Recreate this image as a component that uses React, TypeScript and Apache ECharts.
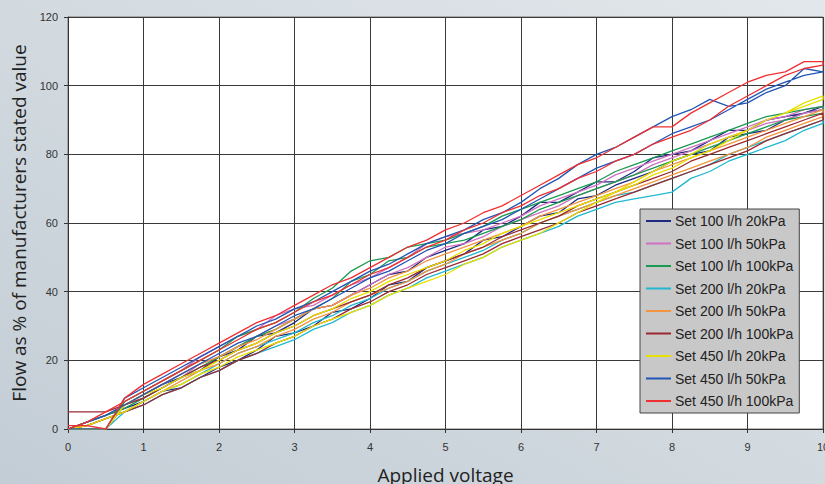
import React, { useEffect, useRef } from "react";
import * as echarts from "echarts";

const VOLTS = [
  0, 0.25, 0.5, 0.75, 1, 1.25, 1.5, 1.75, 2, 2.25, 2.5, 2.75, 3, 3.25, 3.5, 3.75, 4, 4.25, 4.5, 4.75, 5,
  5.25, 5.5, 5.75, 6, 6.25, 6.5, 6.75, 7, 7.25, 7.5, 7.75, 8, 8.25, 8.5, 8.75, 9, 9.25, 9.5, 9.75, 10,
];

const X_TICKS = [0, 1, 2, 3, 4, 5, 6, 7, 8, 9, 10];
const Y_TICKS = [0, 20, 40, 60, 80, 100, 120];

const SERIES_NAMES = [
  "Set 100 l/h 20kPa",
  "Set 100 l/h 50kPa",
  "Set 100 l/h 100kPa",
  "Set 200 l/h 20kPa",
  "Set 200 l/h 50kPa",
  "Set 200 l/h 100kPa",
  "Set 450 l/h 20kPa",
  "Set 450 l/h 50kPa",
  "Set 450 l/h 100kPa",
];

const SERIES_COLORS = [
  "#1c2a80",
  "#d070c0",
  "#189a50",
  "#20b8d0",
  "#f2953e",
  "#9a2a32",
  "#e8e000",
  "#2255b5",
  "#f03030",
];

// rising sweep (voltage increasing) and falling sweep (voltage decreasing), values at VOLTS
const S100_20_UP = [0, 2, 4, 6, 8, 11, 12, 15, 18, 20, 23, 27, 28, 30, 34, 35, 38, 42, 43, 47, 49, 51, 55, 56, 59, 62, 63, 67, 68, 71, 73, 75, 78, 80, 81, 85, 86, 87, 90, 92, 93];
const S100_20_DOWN = [0, 0, 0, 7, 10, 13, 15, 17, 21, 23, 27, 28, 31, 35, 36, 39, 42, 45, 46, 50, 52, 54, 58, 59, 62, 66, 66, 69, 72, 72, 75, 79, 80, 81, 84, 87, 87, 90, 91, 92, 94];
const S100_50_UP = [0, 2, 4, 7, 9, 12, 15, 19, 21, 24, 27, 30, 32, 35, 36, 39, 42, 45, 47, 50, 53, 54, 56, 59, 61, 63, 65, 68, 70, 72, 74, 77, 79, 81, 83, 85, 87, 89, 90, 92, 93];
const S100_50_DOWN = [0, 0, 0, 8, 11, 14, 17, 21, 24, 27, 29, 33, 35, 36, 39, 42, 44, 47, 50, 54, 56, 57, 58, 60, 62, 65, 67, 69, 71, 74, 76, 78, 80, 82, 84, 86, 88, 90, 91, 93, 94];
const S100_100_UP = [0, 2, 4, 6, 9, 12, 15, 18, 21, 24, 27, 29, 32, 35, 38, 43, 45, 49, 50, 53, 54, 55, 57, 59, 61, 64, 66, 68, 70, 72, 74, 76, 78, 80, 82, 84, 86, 88, 90, 91, 92];
const S100_100_DOWN = [0, 0, 0, 8, 11, 14, 17, 20, 23, 27, 29, 31, 34, 38, 41, 46, 49, 50, 53, 54, 55, 57, 59, 62, 64, 66, 68, 70, 72, 75, 77, 79, 81, 83, 85, 87, 89, 91, 92, 93, 94];
const S200_20_UP = [0, 1, 3, 5, 7, 10, 12, 15, 17, 20, 22, 24, 26, 29, 31, 34, 36, 39, 41, 44, 46, 48, 50, 53, 55, 57, 59, 62, 64, 66, 67, 68, 69, 73, 75, 78, 80, 82, 84, 87, 89];
const S200_20_DOWN = [0, 0, 0, 5, 8, 11, 13, 16, 19, 22, 24, 26, 28, 31, 33, 36, 38, 41, 43, 46, 48, 50, 52, 55, 57, 60, 62, 64, 66, 68, 69, 71, 73, 75, 77, 80, 82, 84, 86, 88, 90];
const S200_50_UP = [0, 1, 3, 5, 8, 11, 14, 17, 19, 22, 24, 27, 29, 32, 34, 37, 39, 41, 43, 46, 48, 51, 53, 55, 57, 60, 62, 64, 66, 68, 70, 72, 74, 76, 78, 80, 82, 85, 87, 89, 91];
const S200_50_DOWN = [0, 0, 0, 7, 10, 13, 16, 19, 21, 24, 26, 29, 32, 35, 36, 39, 41, 44, 46, 49, 51, 53, 55, 57, 59, 62, 64, 66, 68, 70, 72, 75, 77, 79, 81, 83, 85, 87, 89, 91, 93];
const S200_100_UP = [0, 1, 3, 5, 7, 10, 12, 15, 17, 20, 22, 25, 27, 30, 32, 35, 37, 40, 42, 45, 47, 49, 51, 54, 56, 58, 60, 63, 65, 67, 69, 71, 73, 75, 77, 79, 81, 84, 86, 88, 90];
const S200_100_DOWN = [5, 5, 5, 7, 9, 12, 15, 18, 20, 23, 25, 28, 30, 33, 35, 37, 39, 42, 44, 47, 49, 51, 53, 56, 58, 60, 62, 65, 67, 69, 71, 73, 75, 78, 80, 82, 84, 86, 88, 90, 92];
const S450_20_UP = [0, 1, 3, 5, 8, 11, 13, 16, 18, 21, 23, 25, 27, 30, 32, 34, 36, 39, 41, 43, 45, 48, 50, 53, 55, 57, 60, 63, 66, 69, 72, 75, 78, 80, 83, 85, 87, 90, 92, 94, 96];
const S450_20_DOWN = [0, 0, 0, 7, 10, 12, 15, 17, 20, 23, 25, 28, 30, 33, 35, 38, 40, 43, 45, 47, 49, 52, 54, 57, 59, 61, 63, 65, 67, 69, 71, 74, 76, 79, 81, 84, 87, 90, 92, 95, 97];
const S450_50_UP = [0, 2, 4, 7, 10, 13, 16, 19, 22, 25, 27, 30, 33, 35, 38, 41, 44, 46, 49, 52, 54, 57, 59, 61, 64, 67, 70, 73, 76, 78, 80, 83, 86, 88, 90, 93, 96, 99, 101, 103, 104];
const S450_50_DOWN = [0, 0, 0, 9, 12, 15, 18, 21, 24, 27, 30, 32, 35, 37, 40, 43, 46, 48, 51, 54, 56, 58, 61, 63, 66, 70, 73, 77, 80, 82, 85, 88, 91, 93, 96, 94, 95, 98, 100, 105, 104];
const S450_100_UP = [0, 2, 5, 8, 11, 14, 17, 20, 23, 26, 29, 31, 34, 37, 39, 42, 45, 47, 50, 53, 55, 58, 60, 63, 65, 68, 70, 73, 75, 78, 80, 83, 85, 87, 90, 94, 97, 100, 103, 105, 106];
const S450_100_DOWN = [1, 1, 0, 9, 13, 16, 19, 22, 25, 28, 31, 33, 36, 39, 42, 44, 47, 50, 53, 55, 58, 60, 63, 65, 68, 71, 74, 77, 79, 82, 85, 88, 88, 92, 95, 98, 101, 103, 104, 107, 107];

const SWEEPS = [
  [S100_20_UP, S100_20_DOWN],
  [S100_50_UP, S100_50_DOWN],
  [S100_100_UP, S100_100_DOWN],
  [S200_20_UP, S200_20_DOWN],
  [S200_50_UP, S200_50_DOWN],
  [S200_100_UP, S200_100_DOWN],
  [S450_20_UP, S450_20_DOWN],
  [S450_50_UP, S450_50_DOWN],
  [S450_100_UP, S450_100_DOWN],
];

function buildData(up: number[], down: number[]) {
  const pts: number[][] = [];
  for (let i = 0; i < VOLTS.length; i++) pts.push([VOLTS[i], up[i]]);
  for (let i = VOLTS.length - 1; i >= 0; i--) pts.push([VOLTS[i], down[i]]);
  return pts;
}

export default function App() {
  const ref = useRef<HTMLDivElement>(null);
  useEffect(() => {
    if (!ref.current) return;
    const chart = echarts.init(ref.current, null, { renderer: "svg" });
    const axisFont = { color: "#333", fontSize: 11, fontFamily: "Liberation Sans" };
    const titleFont = { fontFamily: "Open Sans", fontSize: 19, color: "#222" };
    const option = {
      animation: false,
      backgroundColor: {
        type: "linear",
        x: 0,
        y: 1,
        x2: 1,
        y2: 0,
        colorStops: [
          { offset: 0, color: "#c3cdd5" },
          { offset: 1, color: "#e2e7eb" },
        ],
      },
      grid: {
        left: 68,
        right: 2,
        top: 17,
        bottom: 55,
        show: true,
        outerBoundsMode: "none",
        containLabel: false,
        backgroundColor: "#ffffff",
        borderColor: "#777",
        borderWidth: 1,
      },
      xAxis: {
        type: "value",
        min: X_TICKS[0],
        max: X_TICKS[X_TICKS.length - 1],
        interval: 1,
        name: "Applied voltage",
        nameLocation: "middle",
        nameGap: 36,
        nameTextStyle: titleFont,
        axisLine: { show: true, lineStyle: { color: "#333", width: 1 } },
        axisTick: { show: true, length: 4, lineStyle: { color: "#333" } },
        axisLabel: { ...axisFont, margin: 12 },
        splitLine: { show: true, lineStyle: { color: "#3a3a3a", width: 1 } },
      },
      yAxis: {
        type: "value",
        min: Y_TICKS[0],
        max: Y_TICKS[Y_TICKS.length - 1],
        interval: 20,
        name: "Flow as % of manufacturers stated value",
        nameLocation: "middle",
        nameGap: 40,
        nameTextStyle: titleFont,
        axisLine: { show: true, lineStyle: { color: "#333", width: 1 } },
        axisTick: { show: true, length: 4, lineStyle: { color: "#333" } },
        axisLabel: { ...axisFont, margin: 10 },
        splitLine: { show: true, lineStyle: { color: "#3a3a3a", width: 1 } },
      },
      legend: {
        orient: "vertical",
        left: 640,
        top: 209,
        padding: [5, 6, 5, 5],
        itemWidth: 25,
        itemHeight: 14,
        itemGap: 8.5,
        backgroundColor: "#c8c8c8",
        borderColor: "#444",
        borderWidth: 1,
        lineStyle: { width: 2 },
        itemStyle: { opacity: 0 },
        textStyle: { fontSize: 14, color: "#222", fontFamily: "Liberation Sans", padding: [0, 0, 0, -1] },
        data: SERIES_NAMES,
      },
      series: SERIES_NAMES.map((name, i) => ({
        type: "line",
        name,
        data: buildData(SWEEPS[i][0], SWEEPS[i][1]),
        showSymbol: false,
        symbol: "none",
        color: SERIES_COLORS[i],
        lineStyle: { width: 1.3, color: SERIES_COLORS[i] },
      })),
    };
    chart.setOption(option as any);
    return () => chart.dispose();
  }, []);
  return (
    <div
      ref={ref}
      style={{ position: "fixed", left: 0, top: 0, width: 825, height: 484 }}
    />
  );
}
